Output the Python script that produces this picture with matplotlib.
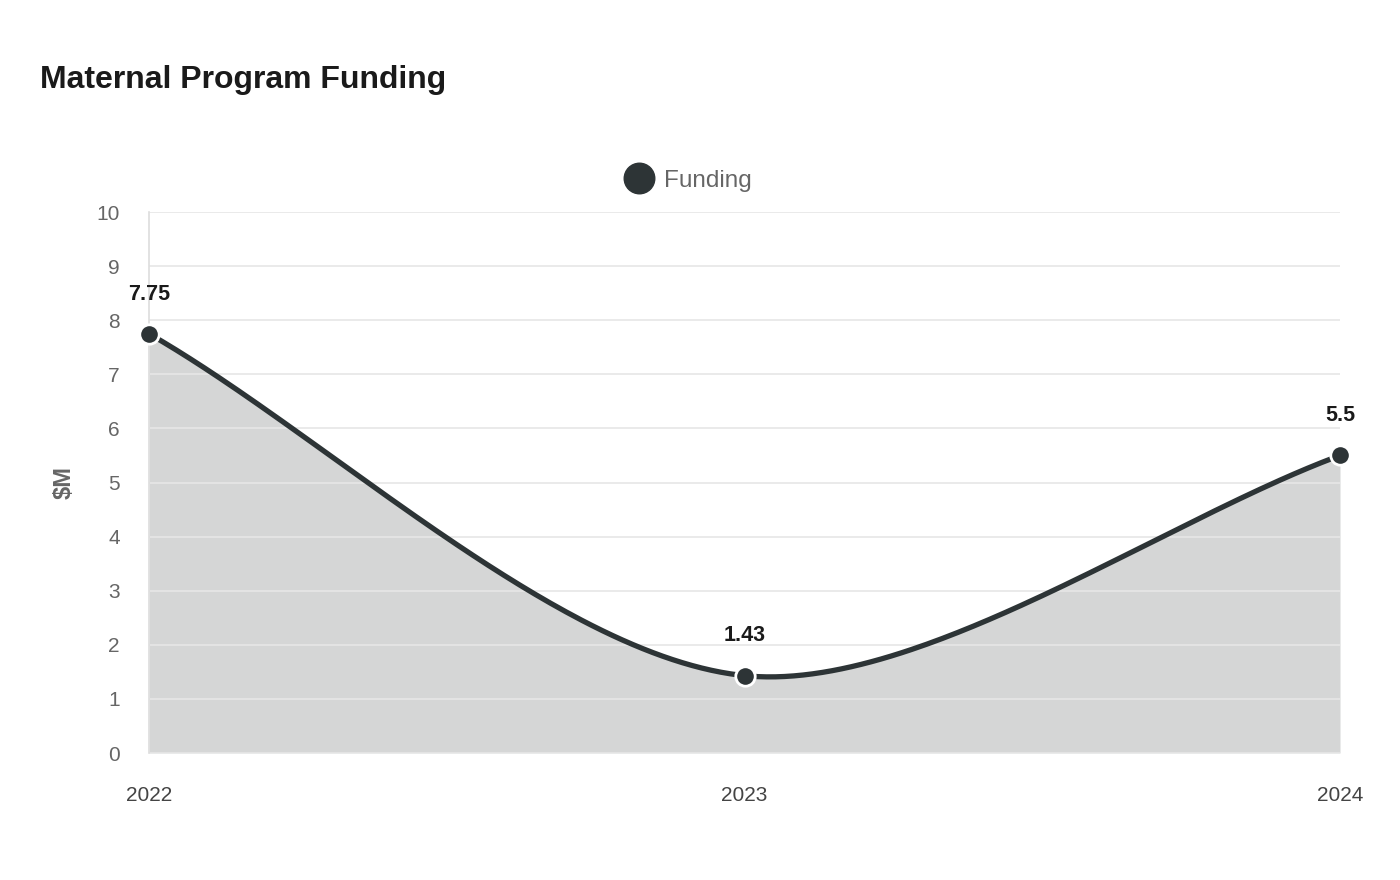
import numpy as np
import matplotlib
matplotlib.use("Agg")
from matplotlib import pyplot as plt
from matplotlib.lines import Line2D

plt.rcParams['font.family'] = ['Liberation Sans', 'DejaVu Sans']

years = ["2022", "2023", "2024"]
funding = [7.75, 1.43, 5.5]
y_ticks = [0, 1, 2, 3, 4, 5, 6, 7, 8, 9, 10]

line_color = "#2d3436"

fig = plt.figure(figsize=(14, 8.8), dpi=100)
ax = fig.add_axes([149/1400, 1 - 753/880, (1340-149)/1400, (753-212)/880])
x = np.arange(len(years))
ax.set_xlim(0, len(years) - 1)
ax.set_ylim(0, 10)

# chart.js style spline (tension 0.3), control points computed in pixel space
pts = ax.transData.transform(np.column_stack([x, funding]))
tension = 0.3
ctrl_prev = pts.copy()
ctrl_next = pts.copy()
for i in range(len(pts)):
    p0 = pts[max(i - 1, 0)]
    p1 = pts[i]
    p2 = pts[min(i + 1, len(pts) - 1)]
    d01 = np.hypot(*(p1 - p0))
    d12 = np.hypot(*(p2 - p1))
    tot = d01 + d12
    s01 = d01 / tot if tot else 0
    s12 = d12 / tot if tot else 0
    ctrl_prev[i] = p1 - tension * s01 * (p2 - p0)
    ctrl_next[i] = p1 + tension * s12 * (p2 - p0)

t = np.linspace(0, 1, 120)[:, None]
curve = []
for i in range(len(pts) - 1):
    a, b, c, d = pts[i], ctrl_next[i], ctrl_prev[i + 1], pts[i + 1]
    seg = (1-t)**3 * a + 3*(1-t)**2 * t * b + 3*(1-t) * t**2 * c + t**3 * d
    curve.append(seg if i == 0 else seg[1:])
curve = ax.transData.inverted().transform(np.vstack(curve))

ax.set_yticks(y_ticks)
ax.grid(axis="y", color="#e6e6e6", linewidth=1.2, zorder=0)
ax.fill_between(curve[:, 0], 0, curve[:, 1], color=line_color, alpha=0.2, linewidth=0, zorder=1)
ax.plot(curve[:, 0], curve[:, 1], color=line_color, linewidth=3.8, solid_capstyle="round", zorder=3)
ax.plot(x, funding, "o", color=line_color, markersize=14, markeredgecolor="white",
        markeredgewidth=2, zorder=4, clip_on=False)

for xi, v in zip(x, funding):
    ax.annotate(f"{v:g}", (xi, v), xytext=(0, 21), textcoords="offset points",
                ha="center", va="bottom", fontsize=15.5, fontweight="bold", color="#1a1a1a")

ax.set_xticks(x)
ax.set_xticklabels(years)
for s in ["top", "right", "bottom"]:
    ax.spines[s].set_visible(False)
ax.spines["left"].set_color("#dddddd")
ax.spines["left"].set_linewidth(1.2)
ax.tick_params(axis="y", length=0, pad=21, labelsize=15, labelcolor="#666666")
ax.tick_params(axis="x", length=0, pad=24, labelsize=15, labelcolor="#444444")
ax.set_ylabel("$M", fontsize=17, fontweight="bold", color="#666666", labelpad=15)

fig.text(40/1400, 1 - 80/880, "Maternal Program Funding", fontsize=23, fontweight="bold",
         color="#1a1a1a", va="center", ha="left")

handle = Line2D([], [], marker="o", linestyle="none", color=line_color, markersize=22)
fig.legend([handle], ["Funding"], loc="center", bbox_to_anchor=(688/1400, 1 - 181/880),
           frameon=False, fontsize=17.5, labelcolor="#666666", handletextpad=0.45,
           handlelength=1.2)

fig.savefig("out.png", dpi=100)
